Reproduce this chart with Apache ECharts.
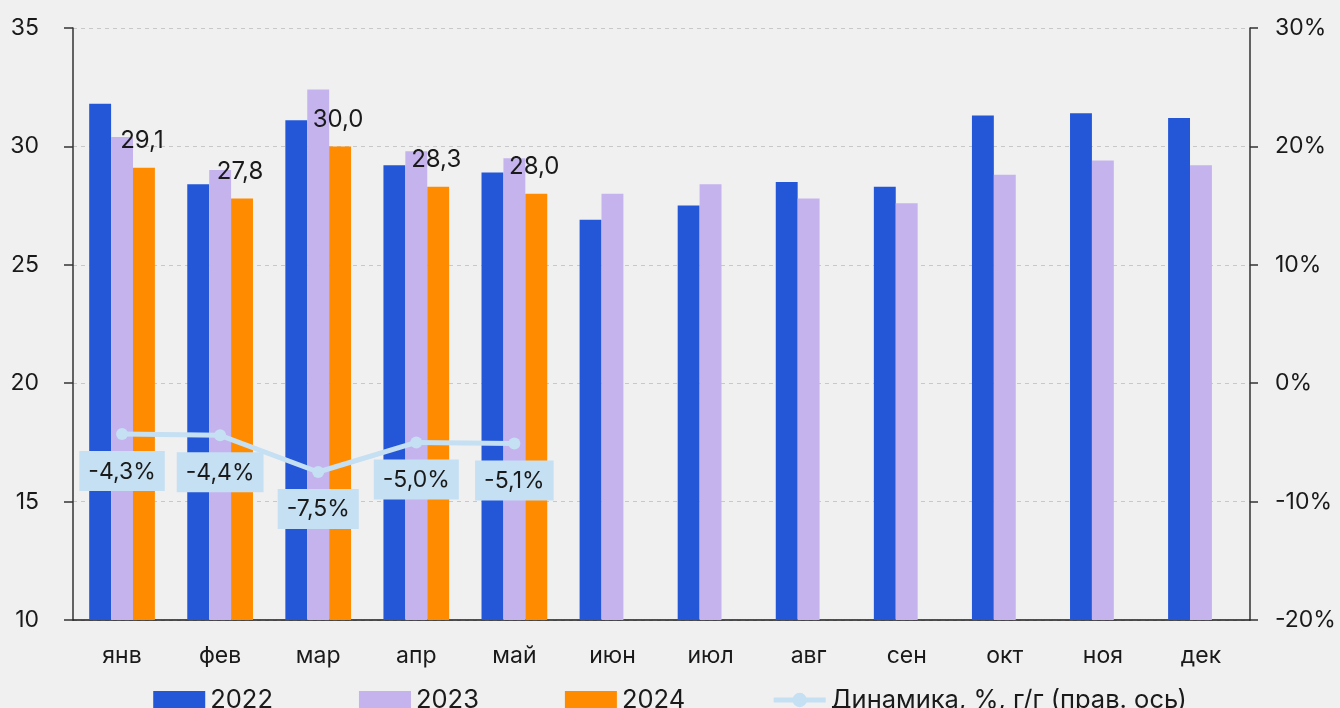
<!DOCTYPE html>
<html>
<head>
<meta charset="utf-8">
<script src="https://cdn.jsdelivr.net/npm/echarts@6/dist/echarts.min.js"></script>
<style>
  html, body { margin: 0; padding: 0; background: #F0F0F0; }
  #main { width: 1340px; height: 708px; }
</style>
</head>
<body>
<div id="main"></div>
<script>
var months = ['янв', 'фев', 'мар', 'апр', 'май', 'июн', 'июл', 'авг', 'сен', 'окт', 'ноя', 'дек'];
var data2022 = [31.8, 28.4, 31.1, 29.2, 28.9, 26.9, 27.5, 28.5, 28.3, 31.3, 31.4, 31.2];
var data2023 = [30.4, 29.0, 32.4, 29.8, 29.5, 28.0, 28.4, 27.8, 27.6, 28.8, 29.4, 29.2];
var data2024 = [29.1, 27.8, 30.0, 28.3, 28.0, null, null, null, null, null, null, null];
var dynamics = [-4.3, -4.4, -7.5, -5.0, -5.1, null, null, null, null, null, null, null];

var FONT = 'Inter';
var LINE_NAME = 'Динамика, %, г/г (прав. ось)';

function comma(v, d) {
    return v.toFixed(d).replace('.', ',');
}

var myChart = echarts.init(document.getElementById('main'));

var option = {
    backgroundColor: '#F0F0F0',
    textStyle: {
        fontFamily: FONT,
        color: '#1A1A1A',
    },
    animation: false,
    grid: {
        left: 73,
        right: 90,
        top: 28,
        bottom: 88,
    },
    legend: {
        left: 'center',
        top: 682,
        itemGap: 86,
        itemWidth: 52,
        itemHeight: 18,
        textStyle: {
            fontSize: 25.5,
            fontFamily: FONT,
            color: '#1A1A1A',
        },
        data: [
            { name: '2022', icon: 'rect' },
            { name: '2023', icon: 'rect' },
            { name: '2024', icon: 'rect' },
            { name: LINE_NAME, lineStyle: { width: 5, color: '#C5DFF3' } },
        ],
    },
    xAxis: {
        type: 'category',
        data: months,
        axisTick: { show: false },
        axisLine: {
            onZero: false,
            lineStyle: { color: '#1A1A1A', width: 1.5 },
        },
        axisLabel: {
            fontSize: 23,
            margin: 25,
            color: '#1A1A1A',
        },
    },
    yAxis: [{
        type: 'value',
        min: 10,
        max: 35,
        interval: 5,
        axisLine: {
            show: true,
            lineStyle: { color: '#333', width: 1.5 },
        },
        axisTick: {
            show: true,
            length: 9,
            lineStyle: { color: '#333', width: 1.5 },
        },
        axisLabel: {
            fontSize: 23,
            margin: 34,
            color: '#1A1A1A',
        },
        splitLine: {
            lineStyle: { color: '#C8C8C8', type: [4, 4], width: 1 },
        },
    }, {
        type: 'value',
        min: -20,
        max: 30,
        interval: 10,
        position: 'right',
        axisLine: {
            show: true,
            lineStyle: { color: '#333', width: 1.5 },
        },
        axisTick: {
            show: true,
            length: 8,
            lineStyle: { color: '#333', width: 1.5 },
        },
        axisLabel: {
            fontSize: 23,
            margin: 25,
            color: '#1A1A1A',
            formatter: function (v) { return v + '%'; },
        },
        splitLine: { show: false },
    }],
    series: [{
        name: '2022',
        type: 'bar',
        barGap: 0,
        barCategoryGap: '33%',
        itemStyle: { color: '#2457D8' },
        data: data2022,
    }, {
        name: '2023',
        type: 'bar',
        barGap: 0,
        barCategoryGap: '33%',
        itemStyle: { color: '#C5B3EE' },
        data: data2023,
    }, {
        name: '2024',
        type: 'bar',
        barGap: 0,
        barCategoryGap: '33%',
        itemStyle: { color: '#FF8C00' },
        label: {
            show: true,
            position: 'top',
            distance: 15,
            offset: [-2, 0],
            fontSize: 24,
            color: '#1A1A1A',
            formatter: function (p) { return comma(p.value, 1); },
        },
        data: data2024,
    }, {
        name: LINE_NAME,
        type: 'line',
        yAxisIndex: 1,
        symbol: 'circle',
        symbolSize: 12,
        z: 5,
        lineStyle: { color: '#C5DFF3', width: 5 },
        itemStyle: { color: '#C5DFF3' },
        label: {
            show: true,
            position: 'bottom',
            distance: 11,
            fontSize: 23,
            color: '#1A1A1A',
            backgroundColor: '#C5DFF3',
            padding: [9, 9, 8, 9],
            formatter: function (p) { return comma(p.value, 1) + '%'; },
        },
        data: dynamics,
    }],
};
myChart.setOption(option);
</script>
</body>
</html>
